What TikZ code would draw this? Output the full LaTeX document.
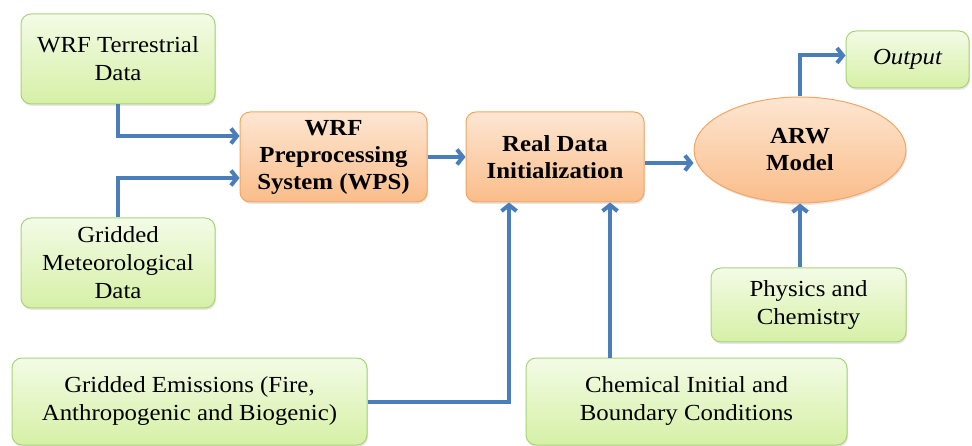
\documentclass[tikz,border=0pt]{standalone}
\usepackage{fontspec}
\setmainfont{Liberation Serif}[FakeStretch=1.08]
\usetikzlibrary{arrows.meta,shapes.geometric,shadows}
\definecolor{arrblue}{HTML}{4A7EBB}
\definecolor{grnborder}{HTML}{A9D37A}
\definecolor{grntop}{HTML}{F3FBE6}
\definecolor{grnbot}{HTML}{D6F0A6}
\definecolor{orgborder}{HTML}{F5A560}
\definecolor{orgtop}{HTML}{FDE6D2}
\definecolor{orgbot}{HTML}{FABD8A}
\begin{document}
\begin{tikzpicture}[x=1pt,y=-1pt,
  boxtext/.style={align=center, inner sep=0pt, font=\fontsize{23}{28}\selectfont},
  greenbox/.style={boxtext, draw=grnborder, line width=1pt, rounded corners=10pt,
    top color=grntop, bottom color=grnbot,
    drop shadow={shadow xshift=1pt,shadow yshift=-2pt,opacity=0.2}},
  orangebox/.style={boxtext, draw=orgborder, line width=1pt, rounded corners=10pt,
    top color=orgtop, bottom color=orgbot, font=\fontsize{23}{27}\selectfont\bfseries,
    drop shadow={shadow xshift=1pt,shadow yshift=-2pt,opacity=0.2}},
  orangeell/.style={boxtext, ellipse, draw=orgborder, line width=1pt,
    top color=orgtop, bottom color=orgbot, font=\fontsize{23}{27}\selectfont\bfseries,
    drop shadow={shadow xshift=1pt,shadow yshift=-2pt,opacity=0.2}},
  arr/.style={draw=arrblue, line width=4pt, -{Straight Barb[length=6pt,width=15pt]}}
]
\useasboundingbox (0,0) rectangle (972,446);

\node[greenbox, minimum width=194pt, minimum height=90pt] (ter) at (118,59) {WRF Terrestrial\\Data};
\node[greenbox, minimum width=194pt, minimum height=90pt] (gmet) at (118,263) {Gridded\\Meteorological\\Data};
\node[orangebox, minimum width=187pt, minimum height=90pt] (wps) at (333.5,157) {WRF\\Preprocessing\\System (WPS)};
\node[orangebox, minimum width=178pt, minimum height=90pt] (rdi) at (555,157) {Real Data\\Initialization};
\node[orangeell, minimum width=212pt, minimum height=106pt] (arw) at (800,150) {ARW\\Model};
\node[greenbox, minimum width=123pt, minimum height=57pt] (out) at (907.5,59.5) {\itshape Output};
\node[greenbox, minimum width=195pt, minimum height=74pt] (phys) at (808.5,305) {Physics and\\Chemistry};
\node[greenbox, minimum width=321pt, minimum height=87pt] (chem) at (686.5,401.5) {Chemical Initial and\\Boundary Conditions};
\node[greenbox, minimum width=355pt, minimum height=87pt] (emis) at (189.5,401.5) {Gridded Emissions (Fire,\\Anthropogenic and Biogenic)};

\draw[arr] (ter.south) |- ([yshift=21pt]wps.west);
\draw[arr] (gmet.north) |- ([yshift=-21pt]wps.west);
\draw[arr] (wps.east) -- (rdi.west);
\draw[arr] ([yshift=-6pt]rdi.east) -- ([yshift=-6pt]rdi.east -| arw.west);
\draw[arr] (arw.north) |- ([yshift=4pt]out.west);
\draw[arr] (phys.north -| arw.south) -- (arw.south);
\draw[arr] ([xshift=55pt]rdi.south |- chem.north) -- ([xshift=55pt]rdi.south);
\draw[arr] (emis.east) -| ([xshift=-46pt]rdi.south);
\end{tikzpicture}
\end{document}
